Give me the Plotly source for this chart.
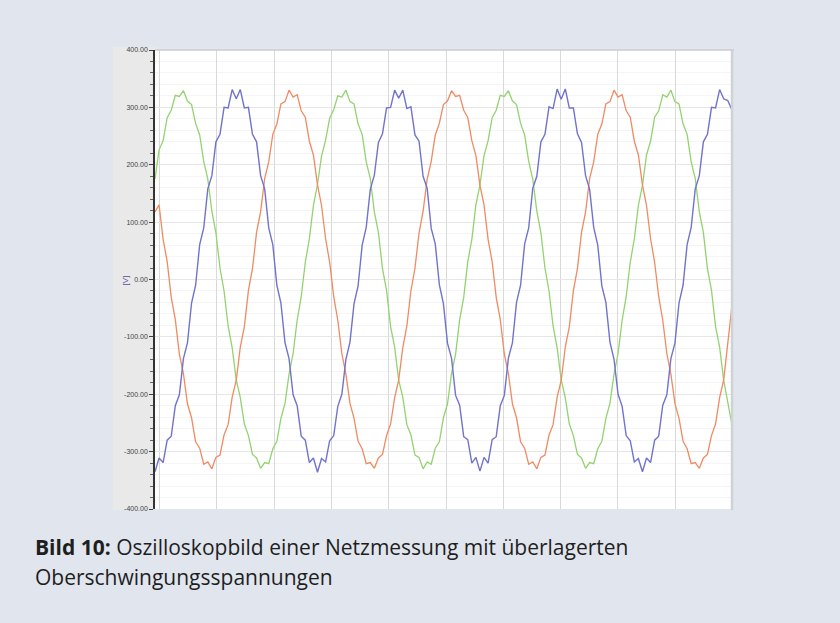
import plotly.graph_objects as go

# time axis: oscilloscope samples, 0.5 ms apart
t_ms = [k * 0.5 for k in range(143)]

# phase voltages [V]
u_blue = [
    -335, -311, -319, -280, -273, -220, -201, -138, -110, -41,
    -10, 61, 90, 158, 181, 240, 253, 300, 299, 331,
    315, 331, 299, 300, 253, 240, 181, 158, 90, 61,
    -10, -41, -110, -138, -201, -220, -273, -280, -319, -311,
    -336, -312, -318, -281, -272, -221, -200, -139, -109, -42,
    -11, 60, 91, 157, 182, 239, 254, 299, 300, 330,
    316, 330, 298, 301, 252, 241, 180, 159, 89, 62,
    -9, -42, -111, -137, -202, -219, -274, -279, -320, -310,
    -334, -310, -320, -279, -274, -220, -202, -137, -110, -40,
    -10, 62, 90, 159, 180, 240, 253, 301, 298, 332,
    314, 332, 299, 299, 254, 239, 181, 157, 91, 60,
    -11, -40, -109, -139, -200, -221, -272, -281, -318, -312,
    -335, -311, -319, -280, -273, -219, -201, -138, -111, -41,
    -10, 61, 91, 158, 181, 240, 253, 300, 299, 331,
    315, 312, 296,
]

u_green = [
    175, 226, 242, 282, 295, 321, 319, 329, 311, 305,
    272, 252, 206, 175, 119, 81, 20, -20, -81, -119,
    -175, -206, -252, -272, -305, -311, -329, -319, -321, -295,
    -282, -242, -216, -165, -129, -71, -30, 30, 71, 129,
    166, 215, 243, 281, 296, 320, 318, 330, 310, 306,
    271, 253, 205, 176, 118, 82, 19, -19, -82, -118,
    -176, -205, -253, -271, -306, -310, -330, -318, -322, -294,
    -283, -241, -217, -164, -130, -70, -31, 31, 70, 130,
    165, 216, 242, 282, 295, 321, 319, 329, 311, 305,
    272, 252, 206, 175, 119, 81, 20, -20, -81, -119,
    -175, -206, -252, -272, -305, -311, -329, -319, -321, -295,
    -282, -242, -216, -165, -129, -71, -30, 30, 71, 129,
    164, 217, 241, 283, 294, 322, 318, 330, 310, 306,
    271, 253, 205, 176, 118, 82, 19, -19, -82, -118,
    -176, -212, -252,
]

u_red = [
    118, 130, 70, 31, -31, -70, -130, -164, -217, -241,
    -283, -294, -322, -318, -330, -310, -306, -271, -253, -205,
    -176, -118, -82, -19, 19, 82, 118, 176, 205, 253,
    271, 306, 310, 330, 318, 322, 294, 283, 241, 217,
    165, 129, 71, 30, -30, -71, -129, -165, -216, -242,
    -282, -295, -321, -319, -329, -311, -305, -272, -252, -206,
    -175, -119, -81, -20, 20, 81, 119, 175, 206, 252,
    272, 305, 311, 329, 319, 321, 295, 282, 242, 216,
    164, 130, 70, 31, -31, -70, -130, -164, -217, -241,
    -283, -294, -322, -318, -330, -310, -306, -271, -253, -205,
    -176, -118, -82, -19, 19, 82, 118, 176, 205, 253,
    271, 306, 310, 330, 318, 322, 294, 283, 241, 217,
    165, 129, 71, 30, -30, -71, -129, -165, -216, -242,
    -282, -295, -321, -319, -329, -311, -305, -272, -252, -206,
    -175, -110, -48,
]

y_tick_vals = [400, 300, 200, 100, 0, -100, -200, -300, -400]
y_tick_text = ["400.00", "300.00", "200.00", "100.00", "0.00",
               "-100.00", "-200.00", "-300.00", "-400.00"]

caption_bold = "Bild 10:"
caption_line1 = " Oszilloskopbild einer Netzmessung mit überlagerten"
caption_line2 = "Oberschwingungsspannungen"

PAGE = "#e1e6ee"
W, H = 840, 623
L, R, T, B = 155, 109, 50, 114
pw, ph = W - L - R, H - T - B


def px(xp):
    return (xp - L) / pw


def py(yp):
    return (H - B - yp) / ph


fig = go.Figure()
fig.add_trace(go.Scatter(x=t_ms, y=u_green, mode="lines",
                         line=dict(color="#93d36f", width=1.3), name="L1"))
fig.add_trace(go.Scatter(x=t_ms, y=u_red, mode="lines",
                         line=dict(color="#f08a62", width=1.3), name="L2"))
fig.add_trace(go.Scatter(x=t_ms, y=u_blue, mode="lines",
                         line=dict(color="#7173cc", width=1.4), name="L3"))

shapes = [
    dict(type="rect", xref="paper", yref="paper", x0=px(113), x1=px(155),
         y0=py(510), y1=py(47), fillcolor="#e9e9e9", line=dict(width=0), layer="below"),
    dict(type="rect", xref="paper", yref="paper", x0=px(155), x1=px(734),
         y0=py(50), y1=py(47), fillcolor="#e4e6ea", line=dict(width=0), layer="below"),
    dict(type="line", xref="paper", yref="paper", x0=px(155), x1=px(734),
         y0=py(50), y1=py(50), line=dict(color="#c9cdd3", width=1.5)),
    dict(type="line", xref="paper", yref="paper", x0=px(732), x1=px(732),
         y0=py(510), y1=py(50), line=dict(color="#cfd2d7", width=2.5)),
]

annotations = [
    dict(text="[V]", xref="paper", yref="paper", x=px(118), y=py(281),
         showarrow=False, textangle=-90,
         font=dict(size=8, color="#5a4f9e", family="Liberation Sans")),
    dict(text="<b>" + caption_bold + "</b>" + caption_line1, xref="paper", yref="paper",
         x=px(33), y=py(547), xanchor="left", yanchor="middle", showarrow=False,
         font=dict(size=21, color="#1e1e1e", family="Open Sans")),
    dict(text=caption_line2, xref="paper", yref="paper",
         x=px(33), y=py(577), xanchor="left", yanchor="middle", showarrow=False,
         font=dict(size=21, color="#1e1e1e", family="Open Sans")),
]

fig.update_layout(
    width=W, height=H,
    margin=dict(l=L, r=R, t=T, b=B),
    paper_bgcolor=PAGE,
    plot_bgcolor="#ffffff",
    showlegend=False,
    shapes=shapes,
    annotations=annotations,
    xaxis=dict(range=[0, 70.9], showticklabels=False, ticks="",
               showgrid=True, gridcolor="#d9d9d9", gridwidth=1,
               tick0=7.63, dtick=7.05, zeroline=False, showline=False),
    yaxis=dict(range=[-400, 400], tickvals=y_tick_vals, ticktext=y_tick_text,
               ticks="outside", ticklen=4, tickcolor="#444", tickwidth=1,
               tickfont=dict(size=7, color="#444", family="Liberation Sans"),
               showgrid=True, gridcolor="#e6e6e6", gridwidth=1,
               zeroline=False, showline=True, linecolor="#333", linewidth=1.5,
               minor=dict(showgrid=True, gridcolor="#f5f5f5", dtick=20,
                          ticks="outside", ticklen=3, tickcolor="#666")),
)

fig.write_html("out.html", config={"displayModeBar": False},
               post_script="document.body.style.margin='0';document.body.style.overflow='hidden';")
